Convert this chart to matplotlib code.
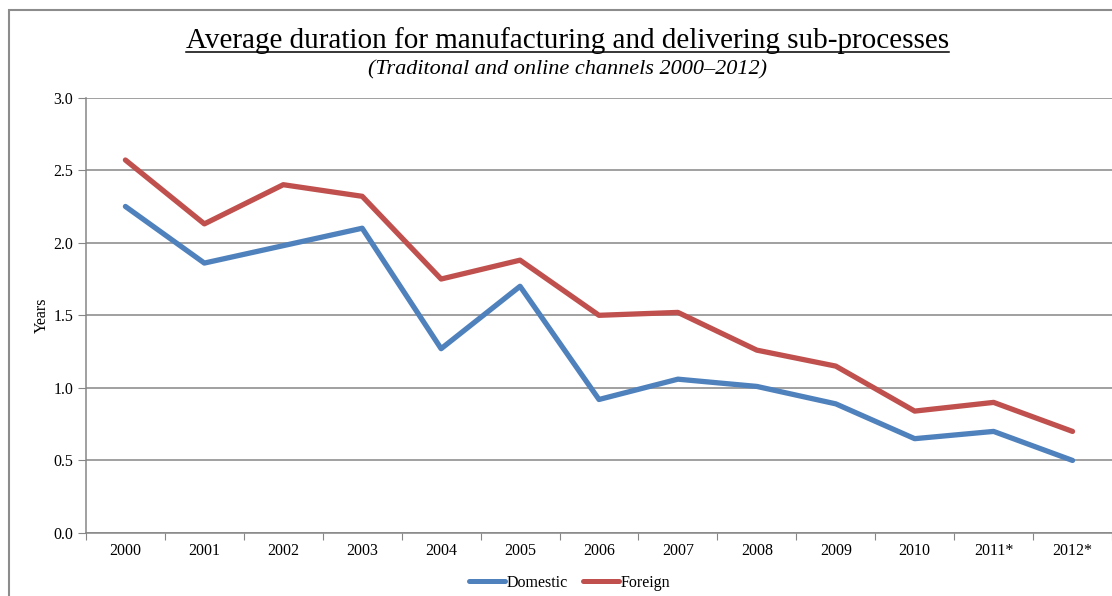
import matplotlib
matplotlib.use('Agg')
import matplotlib.pyplot as plt
from matplotlib.lines import Line2D
from matplotlib.patches import Rectangle

plt.rcParams['font.family'] = ['Liberation Serif', 'DejaVu Serif']

anos = ['2000', '2001', '2002', '2003', '2004', '2005', '2006',
        '2007', '2008', '2009', '2010', '2011*', '2012*']
domestic = [2.25, 1.86, 1.98, 2.10, 1.27, 1.70, 0.92, 1.06, 1.01, 0.89, 0.65, 0.70, 0.50]
foreign = [2.57, 2.13, 2.40, 2.32, 1.75, 1.88, 1.50, 1.52, 1.26, 1.15, 0.84, 0.90, 0.70]
y_ticks = [0, 0.5, 1.0, 1.5, 2.0, 2.5, 3.0]

cor_dom = '#4F81BD'
cor_for = '#C0504D'
cinza = '#868686'

fig = plt.figure(figsize=(11.12, 5.96), dpi=100)
ax = fig.add_axes([0.0773, 0.1057, 0.9227, 0.7305])

x = list(range(len(anos)))
ax.plot(x, domestic, color=cor_dom, lw=3.8, solid_capstyle='round', label='Domestic')
ax.plot(x, foreign, color=cor_for, lw=3.8, solid_capstyle='round', label='Foreign')

ax.set_xlim(-0.5, len(anos) - 0.5)
ax.set_ylim(0, 3.0)
ax.set_yticks(y_ticks)
ax.set_yticklabels([f'{v:.1f}' for v in y_ticks])
ax.yaxis.grid(True, color=cinza, lw=1.1)
ax.set_axisbelow(True)

# ticks das categorias ficam entre os anos
ax.set_xticks([i - 0.5 for i in range(len(anos) + 1)], minor=False)
ax.set_xticklabels([])
ax.set_xticks(x, minor=True)
ax.set_xticklabels(anos, minor=True)
ax.tick_params(axis='x', which='major', length=5, color=cinza, direction='out')
ax.tick_params(axis='x', which='minor', length=0, pad=7, labelsize=11.5)
ax.tick_params(axis='y', length=6, color=cinza, labelsize=11.5, pad=3)

for lado in ['top', 'right']:
    ax.spines[lado].set_visible(False)
for lado in ['left', 'bottom']:
    ax.spines[lado].set_color(cinza)
    ax.spines[lado].set_linewidth(1.1)

ax.set_ylabel('Years', fontsize=11.5, labelpad=3)

# titulo sublinhado
titulo = fig.text(0.510, 0.919, 'Average duration for manufacturing and delivering sub-processes',
                  ha='center', va='baseline', fontsize=21)
fig.text(0.510, 0.875, '(Traditonal and online channels 2000\u20132012)',
         ha='center', va='baseline', fontsize=16, style='italic')

fig.canvas.draw()
bb = titulo.get_window_extent(fig.canvas.get_renderer()).transformed(fig.transFigure.inverted())
fig.add_artist(Line2D([bb.x0, bb.x1], [0.9135, 0.9135], color='black', lw=1.1,
                      transform=fig.transFigure))

# moldura cinza do grafico
fig.add_artist(Rectangle((9 / 1112, -0.05), 1.2, 1 - 10 / 596 + 0.05, transform=fig.transFigure,
                         fill=False, edgecolor='#8c8c8c', lw=1.5))

leg = fig.legend(loc='center', bbox_to_anchor=(0.512, 0.0223), ncol=2, frameon=False,
                 fontsize=11.5, handlelength=2.25, handletextpad=0.1, columnspacing=0.95)
for linha in leg.get_lines():
    linha.set_linewidth(3.6)

fig.savefig('out.png', dpi=100)
